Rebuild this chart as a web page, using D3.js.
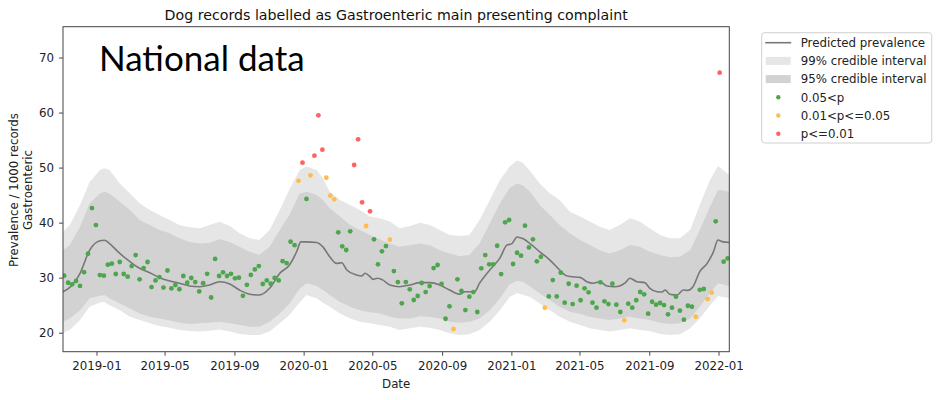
<!DOCTYPE html>
<html><head><meta charset="utf-8">
<script src="https://cdn.jsdelivr.net/npm/d3@7"></script>
<style>
body{margin:0;background:#fff;}
svg{display:block;}
text{font-family:"DejaVu Sans",sans-serif;}
</style>
</head><body>
<svg id="chart" width="943" height="400"></svg>
<script>
// ---------------- data ----------------
const chartTitle = "Dog records labelled as Gastroenteric main presenting complaint";
const firstWeek = "2018-11-05"; // weekly observations start
const prevalence = [
  30.36, 29.08, 28.8, 29.4, 28.5, 31.0, 34.35, 42.65, 39.56, 30.48,
  30.36, 32.36, 32.55, 30.67, 32.85, 30.67, 30.19, 32.1, 34.1, 29.7,
  31.75, 32.85, 28.3, 29.5, 30.1, 28.2, 31.3, 28.05, 28.65, 27.9,
  30.3, 29.08, 29.94, 29.2, 27.5, 29.0, 30.7, 26.4, 33.4, 30.3,
  30.97, 30.3, 30.7, 29.88, 30.0, 26.7, 28.7, 30.5, 31.5, 32.1,
  28.85, 29.5, 28.9, 29.94, 29.5, 33.0, 32.66, 36.54, 35.9, 47.6,
  50.9, 44.3, 48.6, 52.16, 59.5, 53.25, 48.16, 44.9, 44.24, 38.24,
  35.7, 35.03, 38.42, 50.47, 55.13, 43.69, 39.39, 42.06, 36.97, 32.43,
  34.79, 35.75, 36.9, 31.2, 29.2, 25.34, 29.2, 27.88, 25.94, 26.67,
  29.03, 27.39, 28.48, 31.75, 32.3, 28.85, 22.54, 24.8, 20.67, 29.7,
  27.58, 24.12, 26.54, 27.39, 23.76, 31.7, 34.1, 32.43, 32.43, 35.8,
  30.66, 40.06, 40.48, 32.48, 34.53, 34.0, 39.44, 35.5, 36.97, 32.97,
  33.8, 24.55, 26.6, 29.57, 26.6, 30.9, 25.45, 28.9, 25.2, 28.54,
  25.9, 28.07, 27.34, 25.45, 24.55, 29.16, 25.7, 25.2, 28.9, 25.1,
  23.76, 22.25, 25.27, 24.55, 25.9, 27.4, 26.98, 23.45, 25.63, 25.1,
  25.4, 25.03, 23.34, 24.55, 26.54, 24.0, 22.36, 24.9, 24.72, 22.9,
  27.8, 27.94, 26.12, 27.27, 40.24, 67.24, 32.9, 33.5
];
// 0: 0.05<p, 1: 0.01<p<=0.05, 2: p<=0.01
const significance = [
  0,0,0,0,0,0,0,0,0,0, 0,0,0,0,0,0,0,0,0,0, 0,0,0,0,0,0,0,0,0,0,
  0,0,0,0,0,0,0,0,0,0, 0,0,0,0,0,0,0,0,0,0, 0,0,0,0,0,0,0,0,0,1,
  2,0,1,2,2,2,1,1,1,0, 0,0,0,2,2,2,1,2,0,0, 0,0,1,0,0,0,0,0,0,0,
  0,0,0,0,0,0,0,0,1,0, 0,0,0,0,0,0,0,0,0,0, 0,0,0,0,0,0,0,0,0,0,
  0,1,0,0,0,0,0,0,0,0, 0,0,0,0,0,0,0,0,0,0, 0,1,0,0,0,0,0,0,0,0,
  0,0,0,0,0,0,0,0,0,1, 0,0,1,1,0,2,0,0
];
const bandDates = [
  "2018-11-03","2018-11-15","2018-12-03","2018-12-20","2019-01-07","2019-01-15","2019-01-24","2019-02-11",
  "2019-03-01","2019-03-18","2019-04-05","2019-04-22","2019-05-10","2019-05-27","2019-06-14","2019-07-02",
  "2019-07-19","2019-08-06","2019-08-24","2019-09-10","2019-09-28","2019-10-15","2019-11-02","2019-11-20",
  "2019-12-07","2019-12-25","2020-01-06","2020-01-24","2020-02-04","2020-02-16","2020-03-05","2020-03-23",
  "2020-04-09","2020-04-27","2020-05-14","2020-06-01","2020-06-18","2020-07-06","2020-07-24","2020-08-10",
  "2020-08-28","2020-09-14","2020-10-02","2020-10-19","2020-11-06","2020-11-24","2020-12-12","2020-12-29",
  "2021-01-11","2021-01-21","2021-02-03","2021-02-20","2021-03-10","2021-03-27","2021-04-14","2021-05-02",
  "2021-05-19","2021-06-06","2021-06-23","2021-07-11","2021-07-29","2021-08-15","2021-09-02","2021-09-20",
  "2021-10-07","2021-10-25","2021-11-12","2021-11-29","2021-12-17","2021-12-31","2022-01-09","2022-01-20"
];
const upper99 = [
  38.35, 39.57, 43.2, 47.4, 49.55, 49.9, 49.55, 47.1, 45.3, 43.5, 42.3, 41.4, 40.5, 39.57, 39.15, 38.97,
  39.57, 40.17, 39.4, 38.06, 37.15, 36.85, 38.66, 42.3, 46.0, 49.55, 50.2, 49.55, 48.05, 45.6, 44.1, 43.2,
  42.3, 41.1, 40.8, 40.2, 38.97, 39.4, 40.0, 39.57, 38.66, 37.75, 37.57, 37.75, 40.5, 44.1, 47.75, 50.2,
  51.3, 50.9, 49.4, 47.1, 45.3, 44.1, 42.0, 41.1, 40.2, 39.26, 38.66, 39.57, 40.8, 40.2, 38.97, 37.75,
  37.15, 37.15, 38.66, 43.2, 47.75, 50.3, 49.55, 48.65
];
const upper95 = [
  35.0, 35.93, 39.26, 43.5, 45.3, 45.6, 45.3, 43.8, 42.3, 40.5, 39.57, 38.66, 38.06, 37.15, 36.5, 36.2,
  36.35, 36.97, 36.5, 35.6, 34.7, 34.1, 35.6, 38.66, 41.4, 45.3, 45.6, 45.0, 44.1, 42.6, 41.1, 39.57,
  38.66, 37.75, 36.97, 36.2, 35.6, 35.9, 36.2, 35.9, 35.0, 34.4, 33.9, 34.1, 36.2, 39.9, 43.5, 46.3,
  47.1, 46.8, 45.6, 43.2, 41.4, 39.57, 38.06, 36.85, 35.93, 35.0, 34.4, 35.0, 35.93, 35.6, 34.7, 34.1,
  33.7, 33.8, 35.0, 38.66, 42.9, 45.9, 45.9, 45.6
];
const lower95 = [
  22.0, 22.6, 24.1, 26.25, 26.7, 26.85, 26.25, 25.3, 24.4, 23.5, 22.9, 22.6, 22.2, 21.8, 21.6, 21.7,
  21.8, 22.0, 21.7, 21.4, 21.1, 21.1, 22.0, 23.5, 25.3, 28.0, 29.0, 28.5, 27.75, 26.85, 25.6, 24.7,
  24.1, 23.7, 23.5, 22.9, 22.6, 22.6, 23.0, 22.9, 22.6, 22.0, 21.8, 22.0, 22.6, 24.1, 26.25, 28.8,
  29.4, 29.3, 28.4, 27.15, 25.9, 24.7, 23.8, 23.4, 22.9, 22.6, 22.3, 22.6, 22.9, 22.6, 22.3, 21.8,
  21.6, 21.7, 22.6, 24.7, 27.15, 29.0, 28.8, 28.4
];
const lower99 = [
  20.0, 20.5, 22.3, 24.7, 25.5, 25.6, 25.0, 24.1, 22.9, 22.3, 21.7, 21.2, 20.9, 20.5, 20.3, 20.2,
  20.36, 20.6, 20.2, 19.76, 19.6, 19.6, 20.2, 21.7, 23.2, 25.5, 26.85, 26.25, 25.45, 24.7, 23.5, 22.6,
  22.0, 21.7, 21.4, 21.1, 20.5, 20.8, 21.1, 20.9, 20.5, 19.9, 19.6, 19.7, 20.5, 22.0, 24.1, 26.5,
  27.2, 26.9, 26.5, 25.3, 24.1, 22.9, 22.0, 21.4, 20.8, 20.5, 20.2, 20.5, 20.8, 20.5, 20.3, 19.76,
  19.6, 19.7, 20.8, 22.6, 25.0, 26.67, 26.5, 26.25
];
const lineDates = [
  "2018-11-03","2018-11-15","2018-12-03","2018-12-20","2019-01-07","2019-01-15","2019-01-24","2019-02-11",
  "2019-03-01","2019-03-18","2019-04-05","2019-04-22","2019-05-10","2019-05-27","2019-06-14","2019-07-02",
  "2019-07-19","2019-08-06","2019-08-24","2019-09-10","2019-09-28","2019-10-15","2019-11-02","2019-11-20",
  "2019-12-07","2019-12-20","2019-12-27","2020-01-06","2020-01-24","2020-02-04","2020-02-16","2020-02-28",
  "2020-03-08","2020-03-17","2020-04-03","2020-04-12","2020-04-18","2020-04-27","2020-05-02","2020-05-10",
  "2020-05-19","2020-06-01","2020-06-18","2020-07-06","2020-07-24","2020-08-10","2020-08-28","2020-09-14",
  "2020-10-02","2020-10-11","2020-10-28","2020-11-06","2020-11-24","2020-12-12","2020-12-24","2021-01-02",
  "2021-01-11","2021-01-21","2021-02-03","2021-02-20","2021-03-10","2021-03-27","2021-04-05","2021-04-14",
  "2021-05-02","2021-05-14","2021-05-25","2021-06-06","2021-06-18","2021-07-02","2021-07-11","2021-07-20",
  "2021-07-29","2021-08-10","2021-08-24","2021-09-02","2021-09-15","2021-09-23","2021-09-29","2021-10-07",
  "2021-10-20","2021-10-31","2021-11-08","2021-11-17","2021-11-29","2021-12-12","2021-12-23","2021-12-31",
  "2022-01-09","2022-01-20"
];
const predicted = [
  27.45, 28.25, 30.8, 35.0, 36.7, 36.8, 36.2, 34.4,
  32.9, 31.7, 30.9, 30.0, 29.4, 29.0, 28.5, 28.36,
  28.67, 29.27, 28.85, 27.75, 27.0, 26.85, 28.07, 30.8,
  32.3, 34.8, 36.5, 36.5, 36.4, 35.6, 33.8, 32.6,
  32.7, 31.4, 30.5, 30.3, 30.8, 30.2, 29.7, 29.9,
  29.6, 28.67, 28.36, 28.67, 29.1, 29.1, 28.67, 27.75,
  26.98, 27.45, 27.45, 29.0, 31.4, 33.6, 35.9, 36.2,
  37.4, 37.1, 36.2, 34.7, 33.2, 31.4, 30.5, 30.2,
  30.06, 29.27, 29.0, 29.27, 28.5, 28.36, 28.5, 29.0,
  29.9, 29.27, 29.1, 28.07, 27.45, 27.4, 27.75, 27.0,
  26.85, 27.75, 27.7, 28.36, 31.1, 32.6, 34.7, 36.85,
  36.5, 36.4
];
const xLimits = ["2018-11-03", "2022-01-20"];
const yLimits = [16.55, 75.6];
const yTicks = [20, 30, 40, 50, 60, 70];
const xTickLabels = ["2019-01","2019-05","2019-09","2020-01","2020-05","2020-09","2021-01","2021-05","2021-09","2022-01"];
const legendLabels = ["Predicted prevalence","99% credible interval","95% credible interval","0.05<p","0.01<p<=0.05","p<=0.01"];
const pointColors = ["#4da64d", "#fdbc4b", "#ff6262"];

// ---------------- layout ----------------
const svg = d3.select("#chart");
const M = {left: 63, top: 26.7, right: 943 - 729.3, bottom: 400 - 351.7};
const W = 943 - M.left - M.right, H = 400 - M.top - M.bottom;
const parse = d3.utcParse("%Y-%m-%d");
const parseMonth = d3.utcParse("%Y-%m");

const x = d3.scaleUtc().domain(xLimits.map(parse)).range([0, W]);
const y = d3.scaleLinear().domain(yLimits).range([H, 0]);

const g = svg.append("g").attr("transform", `translate(${M.left},${M.top})`);
g.append("clipPath").attr("id","clip").append("rect").attr("width", W).attr("height", H);
const plot = g.append("g").attr("clip-path","url(#clip)");

const bands = bandDates.map((d, i) => ({date: parse(d), u99: upper99[i], u95: upper95[i], l95: lower95[i], l99: lower99[i]}));
const areaGen = (lo, hi) => d3.area().x(d => x(d.date)).y0(d => y(d[lo])).y1(d => y(d[hi]));

plot.append("path").datum(bands).attr("d", areaGen("l99","u99")).attr("fill", "#e6e6e6");
plot.append("path").datum(bands).attr("d", areaGen("l95","u95")).attr("fill", "#d2d2d2");

const lineData = lineDates.map((d, i) => ({date: parse(d), v: predicted[i]}));
plot.append("path").datum(lineData)
  .attr("d", d3.line().curve(d3.curveMonotoneX).x(d => x(d.date)).y(d => y(d.v)))
  .attr("fill","none").attr("stroke","#777").attr("stroke-width",1.6);

const start = parse(firstWeek);
const pts = prevalence.map((v, i) => ({date: d3.utcDay.offset(start, 7 * i), v, s: significance[i]}));
[0, 1, 2].forEach(s => {
  plot.selectAll(null).data(pts.filter(p => p.s === s)).join("circle")
    .attr("cx", d => x(d.date)).attr("cy", d => y(d.v)).attr("r", 2.4)
    .attr("fill", pointColors[s]);
});

// axes
const xAxis = d3.axisBottom(x).tickValues(xTickLabels.map(parseMonth))
  .tickFormat(d3.utcFormat("%Y-%m")).tickSizeInner(4).tickSizeOuter(0).tickPadding(5.5);
const yAxis = d3.axisLeft(y).tickValues(yTicks).tickFormat(d3.format("d"))
  .tickSizeInner(4).tickSizeOuter(0).tickPadding(5);

const gx = g.append("g").attr("transform", `translate(0,${H})`).call(xAxis);
const gy = g.append("g").call(yAxis);
[gx, gy].forEach(a => {
  a.select(".domain").remove();
  a.selectAll("line").attr("stroke", "#333").attr("stroke-width", 0.9);
  a.selectAll("text").attr("font-size", 11.8).attr("fill", "#222").attr("font-family", "DejaVu Sans");
});
g.append("rect").attr("width", W).attr("height", H).attr("fill","none")
  .attr("stroke","#444").attr("stroke-width",1);

// titles
svg.append("text").attr("x", M.left + W / 2).attr("y", 20).attr("text-anchor","middle")
  .attr("font-size", 14.2).attr("fill","#111").text(chartTitle);
svg.append("text").attr("x", M.left + W / 2).attr("y", 388).attr("text-anchor","middle")
  .attr("font-size", 11.8).attr("fill","#222").text("Date");
svg.append("text").attr("transform","translate(18,190) rotate(-90)").attr("text-anchor","middle")
  .attr("font-size", 11.8).attr("fill","#222").text("Prevalence / 1000 records");
svg.append("text").attr("transform","translate(31.5,190) rotate(-90)").attr("text-anchor","middle")
  .attr("font-size", 11.8).attr("fill","#222").text("Gastroenteric");

svg.append("text").attr("x", 99).attr("y", 70.5)
  .style("font-family", "Lato, 'Open Sans', sans-serif").attr("font-size", 35).attr("fill","#000")
  .text("National data");

// legend
const lg = svg.append("g").attr("transform","translate(761.7,32.7)");
lg.append("rect").attr("width", 170).attr("height", 110.3).attr("rx", 3)
  .attr("fill","#fff").attr("fill-opacity",0.8).attr("stroke","#d0d0d0").attr("stroke-width",1);
const rowY = i => 10 + i * 18.2;
legendLabels.forEach((lab, i) => {
  const row = lg.append("g").attr("transform", `translate(0,${rowY(i)})`);
  if (i === 0) {
    row.append("line").attr("x1", 3.5).attr("x2", 29.5).attr("y1", 0).attr("y2", 0)
      .attr("stroke","#777").attr("stroke-width",1.6);
  } else if (i === 1 || i === 2) {
    row.append("rect").attr("x", 4).attr("y", -4).attr("width", 25).attr("height", 8)
      .attr("fill", i === 1 ? "#e6e6e6" : "#d2d2d2");
  } else {
    row.append("circle").attr("cx", 16.6).attr("cy", 0).attr("r", 2.2).attr("fill", pointColors[i - 3]);
  }
  row.append("text").attr("x", 39).attr("y", 0).attr("dy", "0.36em")
    .attr("font-size", 11.8).attr("fill","#222").text(lab);
});
</script>
</body></html>
